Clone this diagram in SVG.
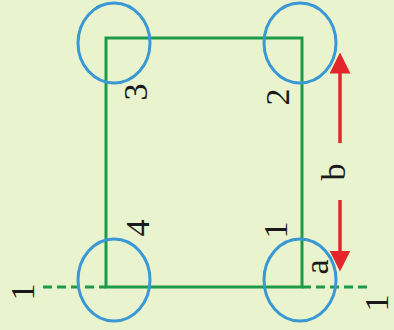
<svg xmlns="http://www.w3.org/2000/svg" width="394" height="330" viewBox="0 0 394 330">
<style>
.bg{fill:#e9f3cd}
.sq{fill:none;stroke:#1f9a48;stroke-width:3}
.dash{fill:none;stroke:#1f9a48;stroke-width:3;stroke-dasharray:9 5}
.ring{fill:none;stroke:#3a98d4;stroke-width:3}
.arr{fill:none;stroke:#e2262b;stroke-width:3.5}
.lbl{font-family:"Liberation Serif","Times New Roman",serif;font-size:34px;fill:#1a1a1a;text-anchor:middle}
</style>
<defs>
<marker id="ah" markerWidth="6" markerHeight="6" refX="5" refY="3" orient="auto" markerUnits="strokeWidth" viewBox="0 0 6 6">
<path d="M0,0 L6,3 L0,6 Z" fill="#e2262b"/>
</marker>
</defs>
<rect class="bg" x="0" y="0" width="394" height="330"/>
<g id="connectors">
<rect id="square" class="sq" x="106" y="38" width="196" height="249"/>
<line class="dash" x1="43" y1="287" x2="106" y2="287"/>
<line class="dash" x1="302" y1="287" x2="371" y2="287"/>
<line class="arr" x1="340" y1="143" x2="340" y2="56" marker-end="url(#ah)"/>
<line class="arr" x1="340" y1="200" x2="340" y2="268" marker-end="url(#ah)"/>
</g>
<g id="ring3"><ellipse class="ring" cx="114" cy="43" rx="36" ry="40"/></g>
<g id="ring2"><ellipse class="ring" cx="300" cy="43" rx="36" ry="40"/></g>
<g id="ring4"><ellipse class="ring" cx="114" cy="280" rx="36" ry="41"/></g>
<g id="ring1"><ellipse class="ring" cx="300" cy="280" rx="36" ry="41"/></g>
<g id="labels">
<text class="lbl" transform="translate(135,92) rotate(-90)" y="12">3</text>
<text class="lbl" transform="translate(277,97) rotate(-90)" y="12">2</text>
<text class="lbl" transform="translate(137,228) rotate(-90)" y="12">4</text>
<text class="lbl" transform="translate(275,230) rotate(-90)" y="12">1</text>
<text class="lbl" transform="translate(335,172) rotate(-90)" y="10">b</text>
<text class="lbl" transform="translate(320,267) rotate(-90)" y="8">a</text>
<text class="lbl" transform="translate(22,292) rotate(-90)" y="12">1</text>
<text class="lbl" transform="translate(376,303) rotate(-90)" y="12">1</text>
</g>
</svg>
